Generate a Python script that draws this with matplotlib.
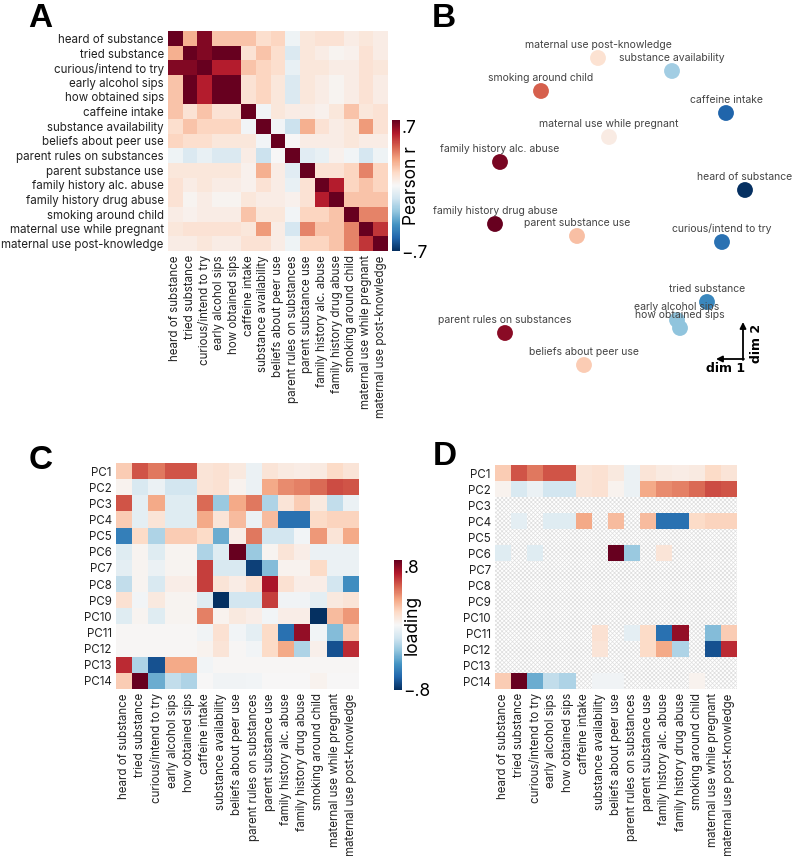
import numpy as np
import matplotlib
matplotlib.use('Agg')
import matplotlib.pyplot as plt
from matplotlib.patches import Rectangle

plt.rcParams['font.family'] = ['Inter', 'DejaVu Sans']
plt.rcParams['hatch.linewidth'] = 0.5

# 变量名称
variables = ['heard of substance', 'tried substance', 'curious/intend to try',
             'early alcohol sips', 'how obtained sips', 'caffeine intake',
             'substance availability', 'beliefs about peer use',
             'parent rules on substances', 'parent substance use',
             'family history alc. abuse', 'family history drug abuse',
             'smoking around child', 'maternal use while pregnant',
             'maternal use post-knowledge']
pcs = ['PC%d' % i for i in range(1, 15)]

# A: Pearson 相关矩阵
corr = np.array([
    [1.00, 0.25, 0.65, 0.20, 0.20, 0.20, 0.12, 0.15, -0.03, 0.08, 0.10, 0.10, 0.05, 0.08, 0.05],
    [0.25, 1.00, 0.65, 0.75, 0.75, 0.10, 0.20, 0.12, -0.10, 0.08, 0.05, 0.02, 0.03, 0.10, 0.05],
    [0.65, 0.65, 1.00, 0.55, 0.55, 0.20, 0.15, 0.12, -0.05, 0.08, 0.08, 0.05, 0.05, 0.10, 0.08],
    [0.20, 0.75, 0.55, 1.00, 0.75, 0.10, 0.15, 0.08, -0.10, 0.08, 0.05, 0.02, 0.05, 0.10, 0.05],
    [0.20, 0.75, 0.55, 0.75, 1.00, 0.10, 0.15, 0.08, -0.10, 0.08, 0.05, 0.02, 0.05, 0.10, 0.05],
    [0.20, 0.10, 0.20, 0.10, 0.10, 1.00, -0.02, 0.08, 0.05, 0.05, 0.03, 0.08, 0.20, 0.08, 0.10],
    [0.12, 0.20, 0.15, 0.15, 0.15, -0.02, 1.00, -0.02, -0.15, 0.25, 0.10, 0.05, 0.08, 0.30, 0.10],
    [0.15, 0.12, 0.12, 0.08, 0.08, 0.08, -0.02, 1.00, 0.00, 0.05, 0.05, 0.05, 0.08, 0.05, 0.05],
    [-0.03, -0.10, -0.05, -0.10, -0.10, 0.05, -0.15, 0.00, 1.00, -0.08, -0.05, 0.03, -0.02, -0.12, -0.03],
    [0.08, 0.08, 0.08, 0.08, 0.08, 0.03, 0.25, 0.05, -0.08, 1.00, 0.10, 0.10, 0.15, 0.35, 0.15],
    [0.10, 0.05, 0.08, 0.05, 0.05, 0.03, 0.10, 0.05, -0.05, 0.10, 1.00, 0.55, 0.15, 0.20, 0.15],
    [0.10, 0.02, 0.05, 0.02, 0.02, 0.08, 0.05, 0.05, 0.03, 0.10, 0.55, 1.00, 0.20, 0.20, 0.20],
    [0.05, 0.03, 0.05, 0.05, 0.05, 0.20, 0.08, 0.08, -0.02, 0.15, 0.15, 0.20, 1.00, 0.35, 0.35],
    [0.08, 0.10, 0.10, 0.10, 0.10, 0.08, 0.30, 0.05, -0.12, 0.35, 0.20, 0.20, 0.35, 1.00, 0.50],
    [0.05, 0.05, 0.08, 0.05, 0.05, 0.10, 0.10, 0.05, -0.03, 0.15, 0.15, 0.20, 0.35, 0.50, 1.00],
])

# B: 二维嵌入坐标及颜色值
dim1 = [0.22, -0.52, 0.79, -1.06, 0.11, 1.20, -1.25, 1.25, 0.43, -1.02, -0.87, -0.57, -0.60, 1.15, 0.36]
dim2 = [1.42, 1.29, 1.09, 0.87, 0.63, 0.38, 0.10, -0.24, -0.36, -0.42, -1.02, -1.20, -1.28, -1.33, -1.65]
b_names = ['maternal use post-knowledge', 'substance availability', 'smoking around child',
           'caffeine intake', 'maternal use while pregnant', 'family history alc. abuse',
           'heard of substance', 'family history drug abuse', 'parent substance use',
           'curious/intend to try', 'tried substance', 'early alcohol sips',
           'how obtained sips', 'parent rules on substances', 'beliefs about peer use']
b_color = [0.15, -0.35, 0.6, -0.8, 0.08, 0.95, -1.0, 1.0, 0.3, -0.75, -0.65, -0.4, -0.4, 0.9, 0.25]

# C: PCA loadings
loadings = np.array([
    [0.20, 0.50, 0.42, 0.50, 0.50, 0.10, 0.12, 0.08, -0.05, 0.10, 0.07, 0.06, 0.07, 0.15, 0.10],
    [0.03, -0.12, -0.05, -0.15, -0.15, 0.10, 0.12, 0.03, -0.05, 0.30, 0.38, 0.40, 0.45, 0.52, 0.50],
    [0.50, -0.08, 0.30, -0.10, -0.10, 0.45, -0.30, 0.30, 0.42, -0.25, 0.10, 0.20, 0.08, -0.20, -0.05],
    [0.20, -0.08, 0.10, -0.10, -0.10, 0.30, 0.10, 0.25, -0.05, 0.25, -0.60, -0.60, 0.15, 0.18, 0.18],
    [-0.55, 0.15, -0.25, 0.20, 0.20, 0.15, -0.40, 0.05, 0.42, -0.15, -0.15, -0.02, 0.35, 0.10, 0.30],
    [-0.10, 0.02, -0.10, 0.02, 0.02, -0.25, -0.10, 0.80, -0.30, 0.02, 0.10, 0.05, -0.05, -0.05, -0.05],
    [-0.08, 0.02, -0.05, 0.02, 0.02, 0.55, -0.12, -0.12, -0.75, -0.35, 0.03, 0.03, 0.15, -0.05, -0.05],
    [-0.20, 0.02, -0.12, 0.05, 0.05, 0.55, 0.10, 0.06, 0.12, 0.65, 0.12, 0.05, 0.05, -0.15, -0.50],
    [0.12, -0.02, 0.08, 0.02, 0.02, -0.10, -0.80, -0.15, -0.15, 0.55, -0.03, -0.03, -0.08, 0.08, 0.10],
    [-0.10, 0.02, -0.10, 0.02, 0.02, 0.40, 0.03, 0.08, 0.05, -0.02, 0.05, 0.05, -0.85, 0.25, 0.35],
    [0.01, 0.01, 0.01, 0.01, 0.01, -0.03, 0.12, -0.02, -0.08, 0.15, -0.60, 0.70, -0.02, -0.35, 0.20],
    [0.01, 0.01, 0.01, 0.01, 0.01, 0.03, 0.10, 0.01, -0.02, 0.15, 0.30, -0.25, 0.04, -0.70, 0.60],
    [0.60, -0.25, -0.70, 0.30, 0.30, -0.02, 0.01, 0.01, 0.01, 0.01, 0.01, 0.01, 0.01, 0.01, 0.01],
    [0.20, 0.80, -0.40, -0.20, -0.25, 0.00, -0.03, -0.03, -0.02, 0.00, 0.00, 0.00, 0.03, 0.00, 0.00],
])

# D: 保留的 loadings (1 = 显示)
d_keep = np.array([
    [1, 1, 1, 1, 1, 1, 1, 1, 1, 1, 1, 1, 1, 1, 1],
    [1, 1, 1, 1, 1, 1, 1, 1, 1, 1, 1, 1, 1, 1, 1],
    [0, 0, 0, 0, 0, 0, 0, 0, 0, 0, 0, 0, 0, 0, 0],
    [0, 1, 0, 1, 1, 1, 0, 1, 0, 1, 1, 1, 1, 1, 1],
    [0, 0, 0, 0, 0, 0, 0, 0, 0, 0, 0, 0, 0, 0, 0],
    [1, 0, 1, 0, 0, 0, 0, 1, 1, 0, 1, 0, 0, 0, 0],
    [0, 0, 0, 0, 0, 0, 0, 0, 0, 0, 0, 0, 0, 0, 0],
    [0, 0, 0, 0, 0, 0, 0, 0, 0, 0, 0, 0, 0, 0, 0],
    [0, 0, 0, 0, 0, 0, 0, 0, 0, 0, 0, 0, 0, 0, 0],
    [0, 0, 0, 0, 0, 0, 0, 0, 0, 0, 0, 0, 0, 0, 0],
    [0, 0, 0, 0, 0, 0, 1, 0, 1, 1, 1, 1, 0, 1, 1],
    [0, 0, 0, 0, 0, 0, 1, 0, 0, 1, 1, 1, 0, 1, 1],
    [0, 0, 0, 0, 0, 0, 0, 0, 0, 0, 0, 0, 0, 0, 0],
    [1, 1, 1, 1, 1, 0, 1, 1, 0, 0, 0, 0, 1, 0, 0],
])

W, H = 794, 856
fig = plt.figure(figsize=(W / 100, H / 100), dpi=100)


def box(x0, y0, x1, y1):
    # 像素框 -> figure 坐标
    return [x0 / W, 1 - y1 / H, (x1 - x0) / W, (y1 - y0) / H]


cmap = plt.get_cmap('RdBu_r')
lab_fs = 8.3


def style_heat(ax, rows):
    ax.set_xticks(range(len(variables)))
    ax.set_xticklabels(variables, rotation=90, fontsize=lab_fs, color='#222222')
    ax.set_yticks(range(len(rows)))
    ax.set_yticklabels(rows, fontsize=lab_fs, color='#222222')
    ax.tick_params(length=0, pad=3)
    for s in ax.spines.values():
        s.set_visible(False)


def style_cbar(cb, lim, label, xlab):
    cb.set_ticks([-lim, lim])
    cb.set_ticklabels(['\u2212.%d' % round(lim * 10), '.%d' % round(lim * 10)])
    cb.ax.tick_params(length=0, labelsize=12.5, pad=1)
    cb.ax.get_yticklabels()[1].set_va('top')
    cb.outline.set_visible(False)
    cb.ax.text(xlab, 0.5, label, rotation=90, ha='center', va='center',
               fontsize=12.5, transform=cb.ax.transAxes)


# ---- A ----
axA = fig.add_axes(box(168, 31, 388, 251))
imA = axA.imshow(corr, cmap=cmap, vmin=-0.7, vmax=0.7, aspect='auto', interpolation='nearest')
style_heat(axA, variables)
caxA = fig.add_axes(box(392, 120, 400, 251))
cbA = fig.colorbar(imA, cax=caxA)
style_cbar(cbA, 0.7, 'Pearson r', 2.4)

# ---- B ----
axB = fig.add_axes(box(440, 30, 780, 400))
axB.scatter(dim1, dim2, c=b_color, cmap=cmap, vmin=-1, vmax=1, s=130, linewidths=0, zorder=2)
for name, x, y in zip(b_names, dim1, dim2):
    axB.annotate(name, (x, y), xytext=(0, 9.5), textcoords='offset points',
                 ha='center', va='center', fontsize=7.5, color='#444444', zorder=3)
axB.set_xlim(1.8, -1.6)
axB.set_ylim(-2.0, 1.7)
axB.axis('off')
# dim 方向指示
axB.annotate('', xy=(716 / W, 1 - 359 / H), xytext=(744 / W, 1 - 359 / H),
             xycoords='figure fraction', textcoords='figure fraction',
             arrowprops=dict(arrowstyle='-|>', color='k', lw=1.3, mutation_scale=9, shrinkA=0, shrinkB=0))
axB.annotate('', xy=(743 / W, 1 - 322 / H), xytext=(743 / W, 1 - 360 / H),
             xycoords='figure fraction', textcoords='figure fraction',
             arrowprops=dict(arrowstyle='-|>', color='k', lw=1.3, mutation_scale=9, shrinkA=0, shrinkB=0))
fig.text(726 / W, 1 - 369 / H, 'dim 1', ha='center', va='center', fontsize=9,
         fontweight='bold', family='DejaVu Sans')
fig.text(756 / W, 1 - 343 / H, 'dim 2', ha='center', va='center', fontsize=9,
         fontweight='bold', rotation=90, family='DejaVu Sans')

# ---- C ----
axC = fig.add_axes(box(116, 463, 359, 689))
imC = axC.imshow(loadings, cmap=cmap, vmin=-0.8, vmax=0.8, aspect='auto', interpolation='nearest')
style_heat(axC, pcs)
caxC = fig.add_axes(box(394, 560, 402, 690))
cbC = fig.colorbar(imC, cax=caxC)
style_cbar(cbC, 0.8, 'loading', 2.3)

# ---- D ----
axD = fig.add_axes(box(495, 465, 737, 689))
masked = np.ma.masked_where(d_keep == 0, loadings)
axD.add_patch(Rectangle((-0.5, -0.5), len(variables), len(pcs), facecolor='white',
                        edgecolor='#dedede', hatch='xxxxxxxx', linewidth=0, zorder=0))
axD.imshow(masked, cmap=cmap, vmin=-0.8, vmax=0.8, aspect='auto', interpolation='nearest', zorder=1)
axD.set_xlim(-0.5, len(variables) - 0.5)
axD.set_ylim(len(pcs) - 0.5, -0.5)
style_heat(axD, pcs)

# panel letters
for letter, x, y in [('A', 28, 3), ('B', 432, 3), ('C', 29, 445), ('D', 433, 441)]:
    fig.text(x / W, 1 - y / H, letter, ha='left', va='top', fontsize=24,
             fontweight='heavy', family='Liberation Sans')

fig.savefig('out.png', dpi=100)
